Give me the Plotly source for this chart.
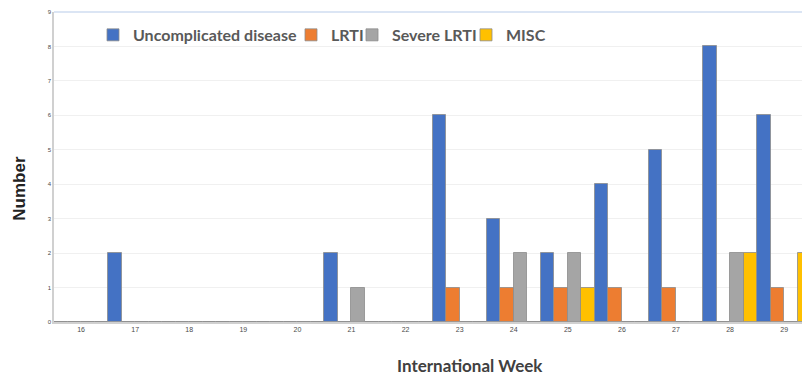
import plotly.graph_objects as go

weeks = ["16", "17", "18", "19", "20", "21", "22", "23", "24", "25", "26", "27", "28", "29"]
uncomplicated = [0, 2, 0, 0, 0, 2, 0, 6, 3, 2, 4, 5, 8, 6]
lrti = [0, 0, 0, 0, 0, 0, 0, 1, 1, 1, 1, 1, 0, 1]
severe_lrti = [0, 0, 0, 0, 0, 1, 0, 0, 2, 2, 0, 0, 2, 0]
misc = [0, 0, 0, 0, 0, 0, 0, 0, 0, 1, 0, 0, 2, 2]

series = [
    ("Uncomplicated disease", uncomplicated, "#4472C4"),
    ("LRTI", lrti, "#ED7D31"),
    ("Severe LRTI", severe_lrti, "#A5A5A5"),
    ("MISC", misc, "#FFC000"),
]
legend_names = ["legend", "legend2", "legend3", "legend4"]
# screen x of each legend text start in the reference
legend_text_x = [133, 331, 392, 506]

PLOT_L, PLOT_W = 54, 748

fig = go.Figure()
for (name, vals, col), lg in zip(series, legend_names):
    fig.add_trace(go.Bar(
        x=weeks, y=vals, name=name, legend=lg,
        marker=dict(color=col, line=dict(color="rgba(140,140,140,0.8)", width=1)),
    ))

legend_common = dict(
    orientation="h", y=0.926, xanchor="left", yanchor="middle",
    font=dict(family="Lato", size=16, color="#595959", weight="bold"),
    bgcolor="rgba(0,0,0,0)", itemwidth=30,
)
layout_legends = {}
for lg, tx in zip(legend_names, legend_text_x):
    layout_legends[lg] = dict(legend_common, x=(tx - 40 - PLOT_L) / PLOT_W)

fig.update_layout(
    width=802, height=375,
    margin=dict(l=54, r=0, t=12, b=53),
    paper_bgcolor="white", plot_bgcolor="white",
    barmode="group", bargap=0, bargroupgap=0,
    showlegend=True,
    font=dict(family="Lato"),
    **layout_legends,
)
fig.update_xaxes(
    type="category", range=[-0.5, 13.33],
    showline=True, linecolor="#d0d0d0", linewidth=1.5,
    showgrid=False, ticks="",
    tickfont=dict(size=7, color="#4a4a4a", family="Liberation Sans"),
)
fig.update_yaxes(
    range=[0, 9], dtick=1,
    showline=True, linecolor="#d0d0d0", linewidth=1.5,
    gridcolor="#f0f0f0", gridwidth=1, zeroline=False,
    tickfont=dict(size=6, color="#4a4a4a", family="Liberation Sans"),
    ticks="",
)
fig.add_shape(type="line", xref="paper", yref="paper", x0=0, x1=1, y0=1, y1=1,
              line=dict(color="#dbe5f4", width=2))
fig.add_annotation(text="<b>Number</b>", xref="paper", yref="paper",
                   x=(20 - PLOT_L) / PLOT_W, y=0.43, xanchor="center", yanchor="middle",
                   textangle=-90, showarrow=False,
                   font=dict(family="Liberation Sans", size=17, color="#222222"))
fig.add_annotation(text="International Week", xref="paper", yref="paper",
                   x=(470 - PLOT_L) / PLOT_W, y=-0.139, xanchor="center", yanchor="middle",
                   showarrow=False,
                   font=dict(family="Lato", size=17, color="#404040", weight="bold"))

fig.write_html(
    "out.html",
    config={"displayModeBar": False},
    post_script="document.body.style.margin='0';document.body.style.overflow='hidden';",
)
